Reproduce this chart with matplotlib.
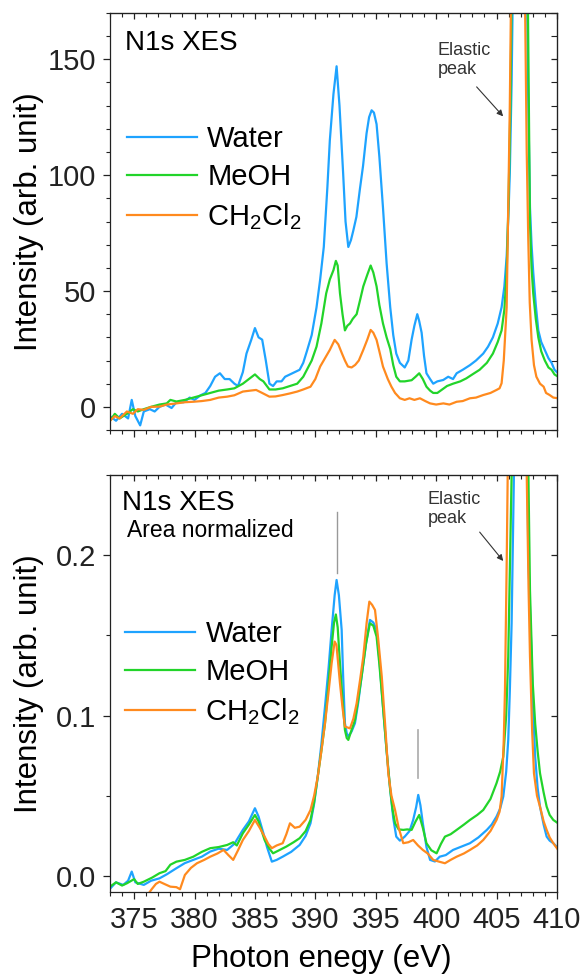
import matplotlib
matplotlib.use("Agg")
import matplotlib.pyplot as plt
from matplotlib.ticker import MultipleLocator

plt.rcParams['font.family'] = ['Liberation Sans', 'DejaVu Sans']
plt.rcParams['mathtext.default'] = 'regular'

labels = ['Water', 'MeOH', 'CH$_2$Cl$_2$']
colors = ['#1ea3ff', '#22d42a', '#ff8a1e']

# ---------------- Top panel (raw intensity) ----------------
top_water_x = [373.0, 373.5, 374.0, 374.5, 374.8, 375.1, 375.5, 375.8, 376.3, 376.7, 377.1, 377.6, 378.1, 378.5,
               379.1, 379.6, 380.0, 380.5, 380.9, 381.3, 381.7, 382.1, 382.5, 382.9, 383.3, 383.6, 384.0, 384.3,
               384.7, 385.0, 385.3, 385.6, 385.9, 386.2, 386.5, 386.8, 387.2, 387.5, 387.9, 388.3, 388.7, 389.0,
               389.3, 389.7, 390.1, 390.4, 390.7, 391.0, 391.2, 391.5, 391.76, 392.0, 392.3, 392.5, 392.73, 392.95,
               393.14, 393.4, 393.69, 393.95, 394.24, 394.45, 394.66, 394.85, 395.07, 395.3, 395.6, 395.9, 396.2,
               396.45, 396.7, 397.0, 397.4, 397.7, 397.97, 398.2, 398.44, 398.6, 398.8, 399.0, 399.2, 399.5, 399.76,
               400.1, 400.59, 401.0, 401.4, 401.7, 402.2, 402.8, 403.3, 403.9, 404.3, 404.7, 405.1, 405.42, 405.65,
               405.84, 406.0, 406.1, 406.25, 406.4, 406.8, 407.2, 407.45, 407.6, 407.77, 407.9, 408.04, 408.25,
               408.46, 408.7, 409.0, 409.3, 409.56, 409.8, 410.1]
top_water_y = [-4, -6, -3, -5, 3, -4, -8, -2, -1, -2, 0, 1, -0.5, 2,
               2, 4, 3, 5, 6, 9, 13, 14.5, 12, 12, 10, 9, 15, 23,
               29, 34, 30, 29, 20, 10, 9, 11, 11, 13, 14, 15, 16, 19,
               24, 31, 43, 55, 69, 95, 115, 135, 147, 130, 101, 80, 69, 72,
               76, 82, 94, 104, 118, 125, 128, 127, 122, 108, 86, 62, 43,
               31, 23, 19, 17, 20, 29, 35, 40, 37, 32, 22, 14.5, 12, 10,
               11, 11.6, 13, 12, 14.5, 16, 18, 20, 23, 26, 30, 36, 43, 52,
               65, 85, 101, 140, 200, 400, 350, 220, 140, 86, 70, 58, 44,
               33, 28, 24.5, 21, 19, 16, 14.5]

top_meoh_x = [373.0, 373.4, 373.8, 374.4, 374.9, 375.3, 375.8, 376.4, 377.1, 377.7, 378.0, 378.5, 379.2, 379.9,
              380.6, 381.3, 382.0, 382.7, 383.3, 384.0, 384.5, 385.0, 385.4, 385.7, 386.2, 386.7, 387.3, 387.9,
              388.5, 389.0, 389.3, 389.7, 390.1, 390.5, 390.9, 391.2, 391.5, 391.7, 391.85, 392.04, 392.25, 392.45,
              392.65, 392.87, 393.1, 393.42, 393.7, 393.97, 394.3, 394.58, 394.8, 395.07, 395.3, 395.6, 395.9,
              396.2, 396.45, 396.7, 397.0, 397.4, 397.97, 398.3, 398.6, 398.9, 399.2, 399.5, 399.76, 400.1, 400.45,
              400.9, 401.4, 402.0, 402.5, 403.0, 403.6, 404.2, 404.7, 405.1, 405.42, 405.65, 405.84, 406.0, 406.15,
              406.3, 406.8, 407.3, 407.55, 407.77, 407.9, 408.04, 408.25, 408.46, 408.7, 409.0, 409.3, 409.56,
              409.8, 410.1]
top_meoh_y = [-6, -3, -5, -3, -1, -2, -1, 0, 1, 1.5, 3, 2.3, 3, 4,
              5, 6, 7, 7.5, 8, 10, 12, 14, 12, 11, 7.5, 7.5, 8, 9,
              10, 13, 16, 20, 26, 36, 49, 55, 59, 63, 61, 49, 40, 33,
              35, 36, 38, 40, 46, 52, 57, 61, 58, 52, 44, 36, 30,
              25, 18, 13, 11, 11, 11.5, 13, 14.5, 12, 8.7, 7, 6, 6, 7.3,
              9, 10, 11, 12.3, 14, 16, 19, 23, 28, 33, 42, 58, 90, 130,
              200, 450, 350, 200, 79, 60, 49, 38, 30, 24, 20, 17, 16,
              14, 13]

top_ch2cl2_x = [373.0, 373.4, 373.8, 374.4, 374.9, 375.3, 375.8, 376.4, 377.1, 377.7, 378.5, 379.2, 379.9, 380.6,
                381.3, 382.0, 382.7, 383.3, 384.0, 384.6, 385.1, 385.6, 386.2, 386.7, 387.3, 387.9, 388.5, 389.0,
                389.6, 390.0, 390.4, 390.8, 391.2, 391.6, 391.9, 392.2, 392.45, 392.7, 393.0, 393.3, 393.6, 393.97,
                394.3, 394.58, 394.8, 395.07, 395.3, 395.6, 396.0, 396.3, 396.6, 397.0, 397.4, 397.8, 398.2, 398.66,
                399.1, 399.5, 400.0, 400.6, 401.1, 401.7, 402.2, 402.8, 403.3, 403.9, 404.5, 405.0, 405.25, 405.42,
                405.6, 405.84, 405.95, 406.1, 406.25, 406.8, 407.2, 407.35, 407.5, 407.63, 407.75, 407.9, 408.1,
                408.3, 408.6, 408.9, 409.1, 409.4, 409.7, 410.1]
top_ch2cl2_y = [-6, -4, -5, -2, -3, -1, -1.3, 0, 0.1, 1, 1.5, 2, 2.2, 2.5,
                3, 4, 4.4, 5, 6.6, 7, 7.3, 6, 4.4, 4.5, 5.1, 5.8, 6.6, 7.5,
                8.7, 12, 17.4, 21, 24.6, 28.9, 27, 23.1, 20, 17.4, 17, 18.1, 20, 24.6,
                29, 33.2, 32, 28.9, 24, 17.4, 12, 8.7, 6, 3.7, 3, 3.7, 3, 3.7,
                2.5, 1.5, 1, 1.5, 1, 2.2, 2.5, 3.7, 4, 5.1, 6, 7.3, 8, 10.2,
                20, 43, 80, 130, 200, 500, 300, 180, 110, 72, 45, 29, 18,
                13, 10, 8.7, 6, 5.1, 4, 3.7]

# ---------------- Bottom panel (area normalized) ----------------
bot_water_x = [373.0, 373.5, 374.1, 374.5, 374.8, 375.1, 375.8, 376.4, 377.1, 377.7, 378.5, 379.2, 379.9, 380.6,
               381.3, 382.0, 382.7, 383.3, 384.0, 384.5, 385.0, 385.3, 385.7, 386.0, 386.4, 386.8, 387.3, 388.0,
               388.7, 389.2, 389.6, 389.9, 390.2, 390.5, 390.8, 391.1, 391.35, 391.6, 391.76, 391.95, 392.18, 392.3,
               392.45, 392.6, 392.73, 393.0, 393.28, 393.55, 393.83, 394.2, 394.52, 394.8, 395.07, 395.3, 395.6,
               395.9, 396.2, 396.45, 396.7, 397.0, 397.4, 397.8, 398.1, 398.35, 398.52, 398.7, 398.9, 399.2, 399.5,
               399.9, 400.3, 400.8, 401.4, 402.0, 402.8, 403.5, 404.2, 404.6, 405.0, 405.3, 405.56, 405.8, 405.97,
               406.1, 406.25, 406.44, 406.9, 407.3, 407.5, 407.63, 407.9, 408.05, 408.2, 408.4, 408.6, 408.9,
               409.15, 409.4, 409.7, 410.1]
bot_water_y = [-0.008, -0.004, -0.0056, -0.003, 0.0027, -0.004, -0.0056, -0.003, -0.0015, 0.001, 0.0048, 0.008,
               0.010, 0.012, 0.0152, 0.017, 0.0162, 0.020, 0.0287, 0.034, 0.0422, 0.037, 0.0266, 0.018, 0.0089,
               0.010, 0.012, 0.015, 0.0193, 0.025, 0.0328, 0.045, 0.0619, 0.082, 0.1055, 0.130, 0.1534, 0.175,
               0.1845, 0.175, 0.1534, 0.125, 0.0952, 0.089, 0.0869, 0.090, 0.0952, 0.108, 0.1243, 0.145, 0.1596,
               0.158, 0.1534, 0.135, 0.1055, 0.078, 0.0536, 0.036, 0.0245, 0.022, 0.0245, 0.028, 0.0349, 0.043,
               0.0505, 0.044, 0.0328, 0.018, 0.0100, 0.009, 0.0120, 0.013, 0.0162, 0.018, 0.0204, 0.024, 0.0287,
               0.032, 0.037, 0.042, 0.0495, 0.065, 0.0848, 0.115, 0.1575, 0.25, 0.6, 0.5, 0.3, 0.2, 0.137, 0.10,
               0.0744, 0.055, 0.0432, 0.032, 0.0245, 0.022, 0.0204, 0.0173]

bot_meoh_x = [373.0, 373.5, 374.0, 374.4, 375.0, 375.3, 375.8, 376.5, 377.1, 377.6, 378.0, 378.5, 379.2, 379.9,
              380.6, 381.3, 382.0, 382.7, 383.2, 383.5, 384.0, 384.5, 385.0, 385.3, 385.8, 386.2, 386.5, 387.0,
              387.6, 388.2, 388.7, 389.2, 389.6, 389.9, 390.2, 390.5, 390.8, 391.1, 391.35, 391.55, 391.7, 391.85,
              392.04, 392.25, 392.45, 392.6, 392.73, 393.0, 393.28, 393.55, 393.83, 394.2, 394.52, 394.8, 395.07,
              395.3, 395.6, 395.9, 396.2, 396.4, 396.6, 396.9, 397.28, 397.6, 397.97, 398.3, 398.6, 398.9, 399.2,
              399.6, 400.04, 400.4, 400.73, 401.2, 401.7, 402.3, 402.8, 403.4, 403.9, 404.5, 405.0, 405.3, 405.56,
              405.8, 405.97, 406.25, 406.8, 407.3, 407.55, 407.77, 408.0, 408.2, 408.4, 408.6, 408.9, 409.15,
              409.4, 409.7, 410.1]
bot_meoh_y = [-0.0067, -0.004, -0.006, -0.0046, -0.002, -0.005, -0.0036, -0.001, 0.0017, 0.003, 0.007, 0.0089,
              0.010, 0.0120, 0.015, 0.0173, 0.018, 0.0193, 0.021, 0.019, 0.0266, 0.032, 0.0380, 0.034, 0.0224,
              0.017, 0.0141, 0.016, 0.0183, 0.021, 0.0235, 0.028, 0.0349, 0.046, 0.0619, 0.078, 0.0952, 0.120,
              0.1430, 0.158, 0.163, 0.155, 0.1326, 0.110, 0.0910, 0.086, 0.0848, 0.091, 0.0972, 0.110, 0.1243,
              0.145, 0.1575, 0.156, 0.1492, 0.132, 0.1055, 0.078, 0.0536, 0.041, 0.0328, 0.029, 0.0287, 0.029,
              0.0287, 0.034, 0.0380, 0.030, 0.0204, 0.016, 0.0141, 0.020, 0.0245, 0.026, 0.0287, 0.032, 0.0349,
              0.038, 0.0411, 0.048, 0.0578, 0.065, 0.0744, 0.100, 0.1367, 0.25, 0.6, 0.5, 0.3, 0.178, 0.12,
              0.095, 0.078, 0.064, 0.052, 0.0432, 0.038, 0.0349, 0.0328]

bot_ch2cl2_x = [373.0, 374.0, 375.0, 376.0, 376.45, 376.8, 377.1, 377.5, 378.0, 378.5, 378.8, 379.2, 379.7, 380.2,
                380.8, 381.3, 381.9, 382.4, 382.8, 383.2, 383.6, 384.0, 384.5, 385.0, 385.4, 385.8, 386.1, 386.4,
                386.8, 387.3, 387.6, 387.9, 388.3, 388.7, 389.2, 389.6, 389.9, 390.2, 390.5, 390.8, 391.1, 391.35,
                391.6, 391.75, 392.04, 392.25, 392.45, 392.87, 393.15, 393.42, 393.7, 393.97, 394.25, 394.47, 394.7,
                394.94, 395.2, 395.5, 395.8, 396.04, 396.3, 396.6, 396.9, 397.28, 397.7, 398.1, 398.5, 398.9, 399.3,
                399.76, 400.2, 400.73, 401.2, 401.7, 402.3, 402.8, 403.4, 403.9, 404.5, 405.0, 405.25, 405.42,
                405.6, 405.7, 405.85, 406.3, 406.8, 407.3, 407.5, 407.65, 407.77, 407.95, 408.1, 408.35, 408.6,
                408.9, 409.15, 409.4, 409.7, 410.1]
bot_ch2cl2_y = [-0.022, -0.02, -0.018, -0.013, -0.0083, -0.005, -0.0036, -0.005, -0.0067, -0.007, -0.0083, 0.0006,
                0.005, 0.0079, 0.010, 0.0120, 0.014, 0.0162, 0.013, 0.0100, 0.016, 0.0224, 0.028, 0.0349, 0.030,
                0.0245, 0.020, 0.0173, 0.019, 0.0204, 0.026, 0.0328, 0.030, 0.0307, 0.035, 0.0411, 0.050, 0.0619,
                0.078, 0.0952, 0.115, 0.1326, 0.1461, 0.144, 0.1201, 0.105, 0.0931, 0.0920, 0.098, 0.1076, 0.122,
                0.1367, 0.158, 0.1710, 0.169, 0.1658, 0.148, 0.1243, 0.092, 0.0640, 0.050, 0.0411, 0.030, 0.0204,
                0.021, 0.0224, 0.019, 0.0162, 0.014, 0.0100, 0.009, 0.0079, 0.010, 0.0120, 0.014, 0.0162, 0.019,
                0.0224, 0.028, 0.0349, 0.040, 0.0495, 0.085, 0.1160, 0.2, 0.5, 0.6, 0.45, 0.25, 0.18, 0.137, 0.09,
                0.064, 0.050, 0.0432, 0.034, 0.0287, 0.024, 0.0204, 0.0162]

x_ticks = [375, 380, 385, 390, 395, 400, 405, 410]

fig = plt.figure(figsize=(5.85, 9.76), dpi=100)
ax1 = fig.add_axes([0.188, 0.5594, 0.764, 0.4273])
ax2 = fig.add_axes([0.188, 0.0861, 0.764, 0.4273])

lw = 1.6
top_data = [(top_water_x, top_water_y), (top_meoh_x, top_meoh_y), (top_ch2cl2_x, top_ch2cl2_y)]
bot_data = [(bot_water_x, bot_water_y), (bot_meoh_x, bot_meoh_y), (bot_ch2cl2_x, bot_ch2cl2_y)]
for (x, y), c, lab in zip(top_data, colors, labels):
    ax1.plot(x, y, color=c, lw=lw, label=lab)
for (x, y), c, lab in zip(bot_data, colors, labels):
    ax2.plot(x, y, color=c, lw=lw, label=lab)

ax1.set_xlim(373, 410)
ax1.set_ylim(-10, 170)
ax2.set_xlim(373, 410)
ax2.set_ylim(-0.01, 0.25)

for ax in (ax1, ax2):
    ax.set_xticks(x_ticks)
    ax.xaxis.set_minor_locator(MultipleLocator(1))
    for s in ax.spines.values():
        s.set_linewidth(0.9)
        s.set_color('#222222')
    ax.tick_params(which='both', direction='out', top=False, right=False, labelsize=21, colors='#222222')
    ax.tick_params(which='major', length=5, width=0.9, pad=5)
    ax.tick_params(which='minor', length=3, width=0.8)
    sx = ax.secondary_xaxis('top')
    sx.set_xticks(x_ticks)
    sx.xaxis.set_minor_locator(MultipleLocator(1))
    sx.tick_params(which='both', direction='in', labeltop=False, colors='#222222')
    sx.tick_params(which='major', length=4, width=0.9)
    sx.tick_params(which='minor', length=3, width=0.8)
    ax.set_ylabel('Intensity (arb. unit)', fontsize=22.5)
    ax.yaxis.set_label_coords(-0.148, 0.5)

ax1.set_yticks([0, 50, 100, 150])
ax1.yaxis.set_minor_locator(MultipleLocator(10))
ax1.tick_params(axis='x', labelbottom=False)
sy1 = ax1.secondary_yaxis('right')
sy1.set_yticks([0, 50, 100, 150])
sy1.yaxis.set_minor_locator(MultipleLocator(10))

ax2.set_yticks([0.0, 0.1, 0.2])
ax2.set_yticklabels(['0.0', '0.1', '0.2'])
ax2.yaxis.set_minor_locator(MultipleLocator(0.05))
sy2 = ax2.secondary_yaxis('right')
sy2.set_yticks([0.0, 0.1, 0.2])
sy2.yaxis.set_minor_locator(MultipleLocator(0.05))
for sy in (sy1, sy2):
    sy.tick_params(which='both', direction='in', labelright=False, colors='#222222')
    sy.tick_params(which='major', length=4, width=0.9)
    sy.tick_params(which='minor', length=4, width=0.8)

ax2.set_xlabel('Photon enegy (eV)', fontsize=22.5)
ax2.xaxis.set_label_coords(0.473, -0.125)

ax1.text(0.034, 0.928, 'N1s XES', transform=ax1.transAxes, fontsize=20, va='center', ha='left')
ax2.text(0.026, 0.933, 'N1s XES', transform=ax2.transAxes, fontsize=20, va='center', ha='left')
ax2.text(0.038, 0.866, 'Area normalized', transform=ax2.transAxes, fontsize=16.5, va='center', ha='left')

ax1.text(400.1, 157.5, 'Elastic\npeak', fontsize=13, color='#333333', va='top', ha='left', linespacing=1.15)
ax1.annotate('', xy=(405.7, 124.5), xytext=(403.2, 139),
             arrowprops=dict(arrowstyle='-|>', color='#333333', lw=0.8, mutation_scale=9))
ax2.text(399.3, 0.2400, 'Elastic\npeak', fontsize=13, color='#333333', va='top', ha='left', linespacing=1.15)
ax2.annotate('', xy=(405.7, 0.195), xytext=(403.46, 0.2157),
             arrowprops=dict(arrowstyle='-|>', color='#333333', lw=0.8, mutation_scale=9))

ax2.plot([391.82, 391.82], [0.1887, 0.227], color='#999999', lw=1.0)
ax2.plot([398.52, 398.52], [0.0612, 0.091], color='#aaaaaa', lw=1.2)

leg_kw = dict(loc='upper left', frameon=False, fontsize=21, handlelength=2.4, handletextpad=0.35,
              labelspacing=0.34, borderaxespad=0, borderpad=0)
ax1.legend(bbox_to_anchor=(0.038, 0.731), **leg_kw)
ax2.legend(bbox_to_anchor=(0.034, 0.651), **leg_kw)

fig.savefig('out.png', dpi=100)
